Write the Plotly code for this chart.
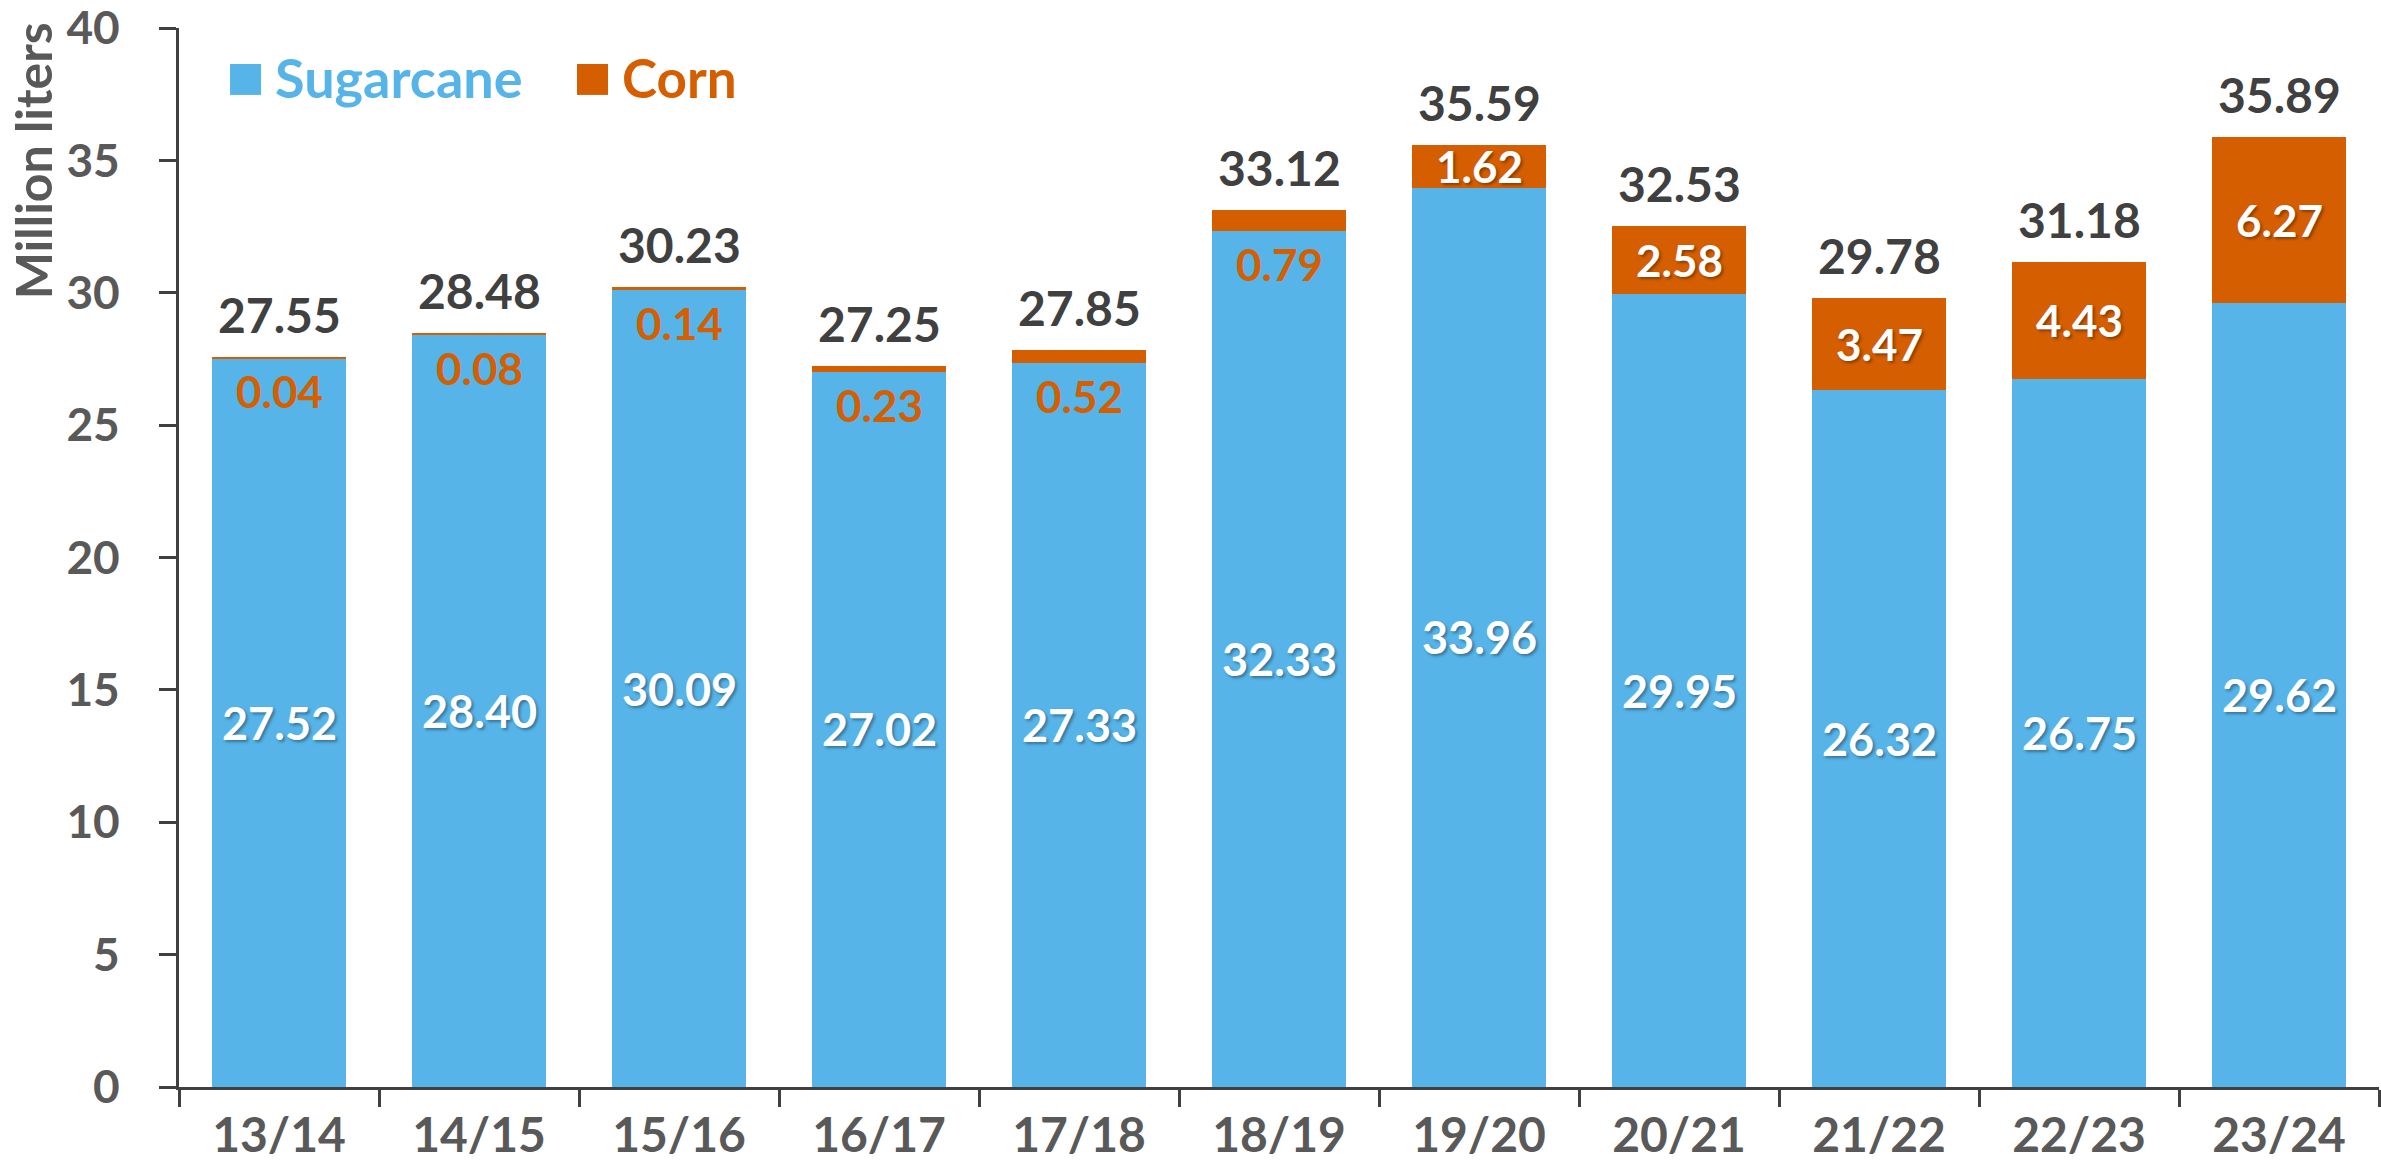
import plotly.graph_objects as go

categories = ['13/14', '14/15', '15/16', '16/17', '17/18', '18/19', '19/20', '20/21', '21/22', '22/23', '23/24']
sugarcane = [27.52, 28.40, 30.09, 27.02, 27.33, 32.33, 33.96, 29.95, 26.32, 26.75, 29.62]
corn = [0.04, 0.08, 0.14, 0.23, 0.52, 0.79, 1.62, 2.58, 3.47, 4.43, 6.27]
totals = [27.55, 28.48, 30.23, 27.25, 27.85, 33.12, 35.59, 32.53, 29.78, 31.18, 35.89]
y_ticks = [0, 5, 10, 15, 20, 25, 30, 35, 40]

BLUE = '#56B4E9'
ORANGE = '#D55E00'
AXIS = '#404040'
TICKTXT = '#595959'
FONT = 'Lato, Roboto, sans-serif'
SHADOW = '2px 2px 3px rgba(0,0,0,0.35)'

fig = go.Figure()
fig.add_trace(go.Bar(x=categories, y=sugarcane, name='Sugarcane', marker=dict(color=BLUE, line=dict(width=0)), hoverinfo='skip'))
fig.add_trace(go.Bar(x=categories, y=corn, name='Corn', marker=dict(color=ORANGE, line=dict(width=0)), hoverinfo='skip'))

ann = []
for c, s, k, t in zip(categories, sugarcane, corn, totals):
    ann.append(dict(x=c, y=s / 2, text=f'<b>{s:.2f}</b>', showarrow=False, xref='x', yref='y',
                    font=dict(family=FONT, size=45, color='white', shadow=SHADOW), yanchor='middle'))
    if k < 1:
        ann.append(dict(x=c, y=s, text=f'<b>{k:.2f}</b>', showarrow=False, xref='x', yref='y',
                        font=dict(family=FONT, size=44, color=ORANGE), yanchor='middle', yshift=-33))
    else:
        ann.append(dict(x=c, y=s + k / 2, text=f'<b>{k:.2f}</b>', showarrow=False, xref='x', yref='y',
                        font=dict(family=FONT, size=44, color='white', shadow=SHADOW), yanchor='middle'))
    ann.append(dict(x=c, y=s + k, text=f'<b>{t:.2f}</b>', showarrow=False, xref='x', yref='y',
                    font=dict(family=FONT, size=48, color=AXIS), yanchor='bottom', yshift=12))

# y-axis title
ann.append(dict(x=-0.0664, y=0.875, xref='paper', yref='paper', text='<b>Million liters</b>', textangle=-90,
                showarrow=False, font=dict(family=FONT, size=50, color=TICKTXT), xanchor='center', yanchor='middle'))

# legend (custom)
ann.append(dict(x=0.0425, y=0.953, xref='paper', yref='paper', text='<b>Sugarcane</b>', showarrow=False,
                font=dict(family=FONT, size=54, color=BLUE), xanchor='left', yanchor='middle'))
ann.append(dict(x=0.2005, y=0.953, xref='paper', yref='paper', text='<b>Corn</b>', showarrow=False,
                font=dict(family=FONT, size=53, color=ORANGE), xanchor='left', yanchor='middle'))
shapes = [
    dict(type='rect', xref='paper', yref='paper', x0=0.0232, x1=0.0373, y0=0.9368, y1=0.966,
         fillcolor=BLUE, line=dict(width=0)),
    dict(type='rect', xref='paper', yref='paper', x0=0.1809, x1=0.1950, y0=0.9368, y1=0.966,
         fillcolor=ORANGE, line=dict(width=0)),
]

fig.update_layout(
    barmode='stack',
    bargap=0.33,
    width=2381, height=1171,
    margin=dict(l=179, r=2, t=28, b=84, autoexpand=False),
    paper_bgcolor='white', plot_bgcolor='white',
    showlegend=False,
    annotations=ann,
    shapes=shapes,
    font=dict(family=FONT),
)
fig.update_xaxes(
    tickvals=categories, ticktext=[f'<b>{c}</b>' for c in categories],
    showline=True, linecolor=AXIS, linewidth=3,
    ticks='outside', ticklen=17, tickwidth=3, tickcolor=AXIS, tickson='boundaries',
    tickfont=dict(family=FONT, size=48, color=TICKTXT), ticklabelstandoff=4,
    showgrid=False, zeroline=False,
)
fig.update_yaxes(
    range=[0, 40.001], tickvals=y_ticks, ticktext=[f'<b>{v}</b>' for v in y_ticks],
    showline=True, linecolor=AXIS, linewidth=3,
    ticks='outside', ticklen=17, tickwidth=3, tickcolor=AXIS,
    tickfont=dict(family=FONT, size=46, color=TICKTXT), ticklabelstandoff=30,
    ticklabeloverflow='allow',
    showgrid=False, zeroline=False,
)

fig.write_html('out.html', config={'displayModeBar': False},
               post_script="document.body.style.margin='0';")
